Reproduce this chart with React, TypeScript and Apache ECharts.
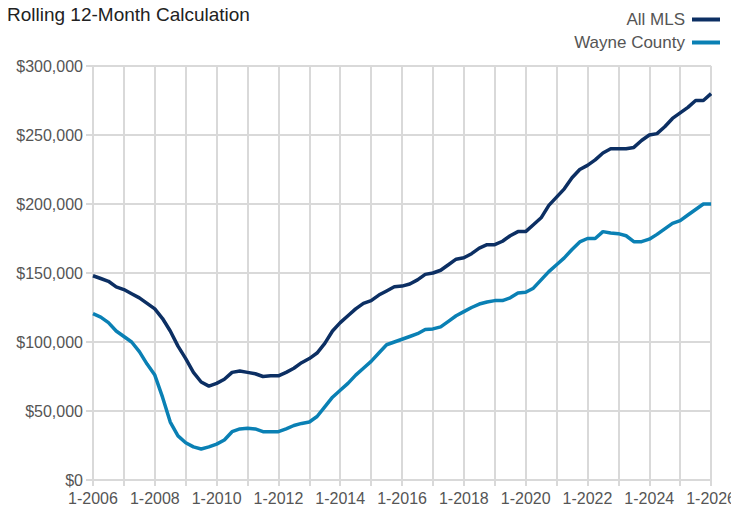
import React, { useEffect, useRef } from "react";
import * as echarts from "echarts";

const startYear = 2006;
const endYear = 2026;
// quarterly observations, starting 1-2006 (values in thousands of dollars)
const allMLS = [
  148, 146, 144, 140, 138, 135, 132, 128, 124, 117, 108, 97, 88, 78, 71, 68,
  70, 73, 78, 79, 78, 77, 75, 75.5, 75.5, 78, 81, 85, 88, 92, 99, 108,
  114, 119, 124, 128, 130, 134, 137, 140, 140.5, 142, 145, 149, 150, 152, 156, 160,
  161, 164, 168, 170.5, 170.5, 173, 177, 180, 180, 185, 190, 199, 205, 211, 219, 225,
  228, 232, 237, 240, 240, 240, 241, 246, 250, 251, 256, 262, 266, 270, 275, 275, 280,
];
const wayneCounty = [
  120.5, 118, 114, 108, 104, 100, 93, 84, 76, 60, 42, 32, 27, 24, 22.5, 24,
  26, 29, 35, 37, 37.5, 37, 35, 35, 35, 37, 39.5, 41, 42, 46, 53, 60,
  65, 70, 76, 81, 86, 92, 98, 100, 102, 104, 106, 109, 109.5, 111, 115, 119,
  122, 125, 127.5, 129, 130, 130, 132, 135.5, 136, 139, 145, 151, 156, 161, 167, 172.5,
  175, 175, 180, 179, 178.5, 177, 172.7, 172.7, 174.5, 178, 182, 186, 188, 192, 196, 200, 200,
];
const seriesNames = ["All MLS", "Wayne County"];
const yTicks = [0, 50000, 100000, 150000, 200000, 250000, 300000];

const FONT = "'Liberation Sans', Arial, sans-serif";

function toPairs(vals: number[]) {
  return vals.map((v, i) => [startYear + i * 0.25, v * 1000]);
}

export default function App() {
  const ref = useRef<HTMLDivElement>(null);
  useEffect(() => {
    if (!ref.current) return;
    const chart = echarts.init(ref.current, null, { renderer: "svg" });
    chart.setOption({
      animation: false,
      backgroundColor: "#ffffff",
      title: {
        text: "Rolling 12-Month Calculation",
        left: 2,
        top: 0,
        padding: [5, 5, 5, 5],
        textStyle: { fontFamily: FONT, fontSize: 19, fontWeight: "normal", color: "#222" },
      },
      legend: {
        orient: "vertical",
        right: 14,
        top: 6,
        align: "right",
        itemWidth: 28,
        itemHeight: 4,
        itemGap: 6,
        icon: "rect",
        data: seriesNames,
        textStyle: { fontFamily: FONT, fontSize: 17, color: "#555", padding: [0, 2, 0, 0] },
      },
      grid: { left: 93, right: 22, top: 66, bottom: 35, containLabel: false },
      xAxis: {
        type: "value",
        min: startYear,
        max: endYear,
        interval: 1,
        axisLine: { show: true, lineStyle: { color: "#d9d9d9", width: 2 } },
        axisTick: { show: true, length: 6, lineStyle: { color: "#d9d9d9", width: 2 } },
        splitLine: { show: true, lineStyle: { color: "#d9d9d9", width: 2 } },
        axisLabel: {
          fontFamily: FONT,
          fontSize: 16,
          color: "#555",
          margin: 10,
          showMinLabel: true,
          showMaxLabel: true,
          formatter: (v: number) => (Math.round(v) % 2 === 0 ? `1-${Math.round(v)}` : ""),
        },
      },
      yAxis: {
        type: "value",
        min: yTicks[0],
        max: yTicks[yTicks.length - 1],
        interval: 50000,
        axisLine: { show: false },
        axisTick: { show: true, length: 7, lineStyle: { color: "#d9d9d9", width: 2 } },
        splitLine: { show: true, lineStyle: { color: "#d9d9d9", width: 2 } },
        axisLabel: {
          fontFamily: FONT,
          fontSize: 16,
          color: "#555",
          margin: 10,
          formatter: (v: number) => "$" + v.toLocaleString("en-US"),
        },
      },
      series: [
        {
          name: seriesNames[0],
          type: "line",
          data: toPairs(allMLS),
          showSymbol: false,
          symbol: "none",
          lineStyle: { color: "#0c2f63", width: 3.5 },
          itemStyle: { color: "#0c2f63" },
          z: 3,
        },
        {
          name: seriesNames[1],
          type: "line",
          data: toPairs(wayneCounty),
          showSymbol: false,
          symbol: "none",
          lineStyle: { color: "#0a80b4", width: 3.5 },
          itemStyle: { color: "#0a80b4" },
          z: 2,
        },
      ],
    });
    return () => chart.dispose();
  }, []);
  return <div ref={ref} style={{ width: 739, height: 515, margin: -8 }} />;
}
